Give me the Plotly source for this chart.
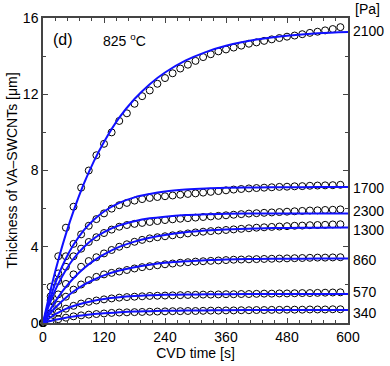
import plotly.graph_objects as go

# CVD time of each measured point [s]
t_data = list(range(0, 600, 15))

# measured thickness [um], one list per pressure
th_2100 = [0, 1.9, 3.5, 5.0, 6.1, 7.1, 8.0, 8.8, 9.4, 10.0, 10.6, 11.0, 11.5, 11.9, 12.2,
           12.55, 12.85, 13.1, 13.35, 13.55, 13.75, 13.95, 14.1, 14.25, 14.35, 14.45, 14.55,
           14.65, 14.72, 14.8, 14.88, 14.95, 15.02, 15.08, 15.15, 15.22, 15.28, 15.35, 15.42, 15.52]
th_1700 = [0, 1.4, 2.6, 3.5, 4.15, 4.65, 5.1, 5.45, 5.75, 6.0, 6.18, 6.3, 6.42, 6.5, 6.56,
           6.61, 6.65, 6.69, 6.73, 6.77, 6.8, 6.84, 6.88, 6.92, 6.96, 7.0, 7.03, 7.06, 7.08,
           7.1, 7.12, 7.14, 7.15, 7.17, 7.18, 7.2, 7.21, 7.22, 7.23, 7.25]
th_2300 = [0, 1.2, 2.2, 2.95, 3.5, 3.9, 4.25, 4.5, 4.72, 4.9, 5.05, 5.14, 5.2, 5.25, 5.3,
           5.35, 5.4, 5.44, 5.47, 5.5, 5.53, 5.56, 5.59, 5.62, 5.65, 5.68, 5.71, 5.74, 5.76,
           5.78, 5.8, 5.82, 5.84, 5.86, 5.88, 5.9, 5.91, 5.93, 5.94, 5.96]
th_1300 = [0, 0.8, 1.5, 2.05, 2.55, 2.95, 3.25, 3.45, 3.65, 3.83, 4.0, 4.13, 4.26, 4.36, 4.44,
           4.5, 4.55, 4.6, 4.65, 4.7, 4.75, 4.79, 4.82, 4.85, 4.88, 4.91, 4.94, 4.97, 5.0,
           5.02, 5.04, 5.06, 5.08, 5.1, 5.11, 5.13, 5.14, 5.15, 5.17, 5.18]
th_860 = [0, 0.5, 0.95, 1.38, 1.75, 2.02, 2.25, 2.42, 2.55, 2.63, 2.7, 2.78, 2.86, 2.93, 2.98,
          3.03, 3.08, 3.12, 3.16, 3.19, 3.22, 3.24, 3.26, 3.28, 3.3, 3.32, 3.33, 3.34, 3.35,
          3.36, 3.37, 3.38, 3.39, 3.4, 3.41, 3.42, 3.43, 3.43, 3.44, 3.45]
th_570 = [0, 0.3, 0.55, 0.75, 0.9, 1.02, 1.11, 1.18, 1.24, 1.29, 1.33, 1.36, 1.38, 1.4, 1.42,
          1.43, 1.44, 1.45, 1.46, 1.47, 1.48, 1.49, 1.49, 1.5, 1.51, 1.51, 1.52, 1.52, 1.53,
          1.54, 1.54, 1.55, 1.55, 1.56, 1.57, 1.57, 1.58, 1.59, 1.6, 1.61]
th_340 = [0, 0.1, 0.2, 0.28, 0.35, 0.4, 0.44, 0.47, 0.5, 0.53, 0.55, 0.56, 0.57, 0.58, 0.59,
          0.6, 0.61, 0.62, 0.62, 0.63, 0.63, 0.64, 0.65, 0.65, 0.66, 0.66, 0.67, 0.67, 0.68,
          0.68, 0.69, 0.69, 0.7, 0.7, 0.7, 0.71, 0.71, 0.71, 0.72, 0.72]

# fitted curves, read at a coarser time grid [s]
t_fit = [0, 10, 20, 30, 45, 60, 80, 100, 120, 150, 180, 210, 240, 280, 320, 360, 420, 480, 540, 600]
fit_2100 = [0, 1.18, 2.28, 3.29, 4.66, 5.87, 7.28, 8.48, 9.5, 10.77, 11.75, 12.53, 13.14,
            13.76, 14.21, 14.54, 14.87, 15.07, 15.2, 15.27]
fit_1700 = [0, 0.95, 1.78, 2.49, 3.38, 4.1, 4.86, 5.42, 5.85, 6.3, 6.59, 6.77, 6.9, 7.0,
            7.06, 7.09, 7.11, 7.12, 7.13, 7.13]
fit_2300 = [0, 0.79, 1.47, 2.05, 2.78, 3.37, 3.97, 4.43, 4.77, 5.12, 5.34, 5.49, 5.58, 5.66,
            5.7, 5.73, 5.74, 5.75, 5.75, 5.75]
fit_1300 = [0, 0.5, 0.95, 1.36, 1.89, 2.35, 2.86, 3.27, 3.6, 3.99, 4.27, 4.47, 4.62, 4.76,
            4.85, 4.91, 4.96, 4.99, 5.0, 5.01]
fit_860 = [0, 0.36, 0.68, 0.96, 1.33, 1.65, 2.0, 2.27, 2.5, 2.75, 2.93, 3.06, 3.16, 3.24,
           3.29, 3.33, 3.36, 3.37, 3.38, 3.39]
fit_570 = [0, 0.21, 0.39, 0.54, 0.74, 0.89, 1.05, 1.17, 1.26, 1.35, 1.41, 1.45, 1.48, 1.49,
           1.51, 1.51, 1.52, 1.52, 1.52, 1.52]
fit_340 = [0, 0.08, 0.14, 0.2, 0.28, 0.34, 0.41, 0.47, 0.51, 0.56, 0.6, 0.62, 0.64, 0.65,
           0.66, 0.67, 0.68, 0.68, 0.68, 0.68]

pressures = ['2100', '1700', '2300', '1300', '860', '570', '340']
measured = [th_2100, th_1700, th_2300, th_1300, th_860, th_570, th_340]
fitted = [fit_2100, fit_1700, fit_2300, fit_1300, fit_860, fit_570, fit_340]

FONT = 'Liberation Sans, Arial, sans-serif'
AXIS = '#444444'

fig = go.Figure()

for p, y in zip(pressures, measured):
    fig.add_trace(go.Scatter(
        x=t_data, y=y, mode='markers', name=p + ' data',
        marker=dict(symbol='circle-open', size=7, color='black', line=dict(width=1)),
        cliponaxis=False))

for p, y in zip(pressures, fitted):
    fig.add_trace(go.Scatter(
        x=t_fit, y=y, mode='lines', name=p + ' fit', line_shape='spline',
        line=dict(color='#1010ff', width=2)))

# pressure labels on the right side
label_y = [15.32, 7.08, 5.89, 4.88, 3.31, 1.64, 0.51]
annotations = [dict(x=600, y=yy, xref='x', yref='y', text=p, showarrow=False,
                    xanchor='left', xshift=3, font=dict(size=14, color='black', family=FONT))
               for p, yy in zip(pressures, label_y)]
# unit header sits above the plot area, so place it in paper coordinates
annotations.append(dict(x=1, y=1.028, xref='paper', yref='paper', text='[Pa]', showarrow=False,
                        xanchor='left', yanchor='middle', xshift=5,
                        font=dict(size=14, color='black', family=FONT)))
annotations.append(dict(x=39, y=14.85, xref='x', yref='y', text='(d)', showarrow=False,
                        font=dict(size=16, color='black', family=FONT)))
annotations.append(dict(x=114, y=14.85, xref='x', yref='y', text='825 <sup>o</sup>C',
                        showarrow=False, xanchor='left',
                        font=dict(size=14, color='black', family=FONT)))

fig.update_layout(
    width=390, height=366,
    margin=dict(l=43, r=42, t=18, b=43),
    plot_bgcolor='white', paper_bgcolor='white',
    showlegend=False,
    font=dict(family=FONT, size=14, color='black'),
    annotations=annotations,
)

fig.update_xaxes(
    range=[0, 600], tickvals=[0, 120, 240, 360, 480, 600],
    ticks='inside', ticklen=5, tickcolor=AXIS,
    minor=dict(dtick=24, ticks='inside', ticklen=3, tickcolor=AXIS),
    showline=True, linecolor=AXIS, linewidth=1.5, mirror='ticks',
    showgrid=False, zeroline=False, automargin=False,
    title=dict(text='CVD time [s]', standoff=2, font=dict(size=14)),
    tickfont=dict(size=14),
)
fig.update_yaxes(
    range=[0, 16], tickvals=[0, 4, 8, 12, 16],
    ticks='inside', ticklen=5, tickcolor=AXIS,
    minor=dict(dtick=2, ticks='inside', ticklen=3, tickcolor=AXIS),
    showline=True, linecolor=AXIS, linewidth=1.5, mirror='ticks',
    showgrid=False, zeroline=False, automargin=False,
    title=dict(text='Thickness of VA–SWCNTs [μm]', standoff=2, font=dict(size=14)),
    tickfont=dict(size=14),
)

fig.write_html('out.html', config={'displayModeBar': False},
               post_script="document.body.style.margin='0px';")
